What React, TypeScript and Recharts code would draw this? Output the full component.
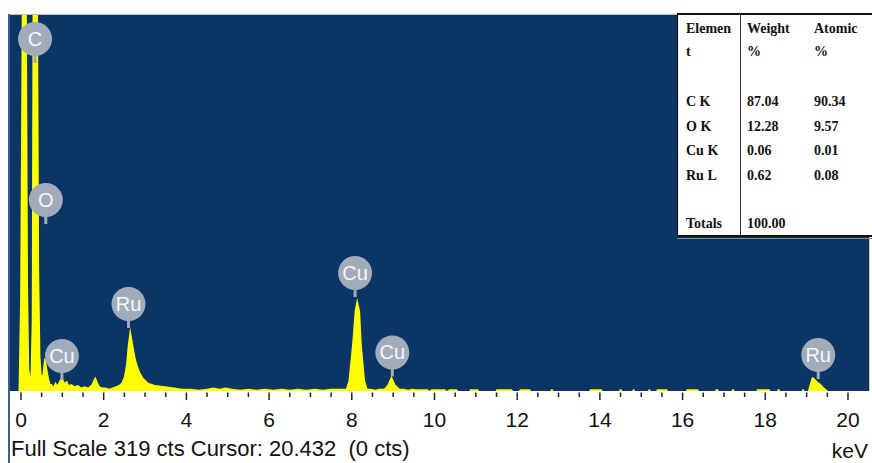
import {Area, CartesianGrid, ComposedChart, ReferenceDot, XAxis, YAxis} from "recharts";

// [keV, counts], region by region
const lightElementPeaks: [number, number][] = [
  [-0.314, 0], [-0.06, 0], [-0.02, 80], [0.02, 330], [0.06, 420], [0.10, 400], [0.14, 340],
  [0.17, 90], [0.20, 18], [0.23, 12], [0.26, 60], [0.28, 330], [0.33, 400], [0.38, 380],
  [0.41, 330], [0.44, 100], [0.47, 30], [0.50, 13], [0.52, 14], [0.56, 28], [0.60, 26],
  [0.64, 18], [0.68, 10], [0.72, 6],
];
const lowBackground: [number, number][] = [
  [0.74, 6], [0.79, 4], [0.83, 8], [0.88, 5], [0.93, 9], [0.98, 12], [1.02, 10], [1.06, 7],
  [1.11, 9], [1.16, 5], [1.22, 6], [1.30, 4], [1.38, 5], [1.46, 3], [1.54, 4], [1.62, 3],
  [1.70, 5], [1.76, 10], [1.80, 12], [1.85, 8], [1.90, 4], [1.97, 3], [2.05, 3], [2.13, 2],
  [2.21, 3], [2.30, 4], [2.37, 5],
];
const rutheniumL: [number, number][] = [
  [2.43, 7], [2.49, 12], [2.54, 22], [2.58, 38], [2.64, 54], [2.68, 46], [2.72, 38],
  [2.76, 30], [2.80, 24], [2.88, 16], [2.96, 11], [3.08, 7], [3.24, 5], [3.48, 4], [3.70, 3],
  [3.90, 2],
];
const midBackground: [number, number][] = [
  [4.10, 2], [4.30, 1], [4.50, 2], [4.65, 3], [4.80, 2], [4.95, 3], [5.10, 2], [5.30, 1],
  [5.50, 2], [5.70, 1], [5.90, 2], [6.10, 1], [6.30, 2], [6.50, 1], [6.70, 2], [6.90, 1],
  [7.10, 2], [7.30, 1], [7.50, 2], [7.70, 2], [7.80, 2],
];
const copperK: [number, number][] = [
  [7.86, 2], [7.92, 9], [8.01, 40], [8.07, 68], [8.13, 79], [8.20, 68], [8.24, 40], [8.32, 9],
  [8.38, 2], [8.46, 2], [8.56, 1], [8.66, 2], [8.78, 2], [8.86, 5], [8.96, 13], [9.06, 5],
  [9.16, 2], [9.26, 2], [9.36, 1], [9.46, 2],
];
const highTail: [number, number][] = [
  [9.55, 1.5], [9.84, 1.5], [9.88, 0], [9.92, 1.5], [10.25, 1.5], [10.30, 0], [10.36, 1.5],
  [10.54, 1.5], [10.58, 0], [10.84, 0], [10.86, 1.5], [11.05, 1.5], [11.08, 0], [11.48, 0],
  [11.50, 1.5], [11.87, 1.5], [11.90, 0], [12.04, 0], [12.07, 1.5], [12.31, 1.5], [12.34, 0],
  [12.80, 0], [12.82, 1.5], [12.86, 1.5], [12.88, 0], [13.74, 0], [13.76, 1.5], [14.04, 1.5],
  [14.07, 0], [14.46, 0], [14.48, 1.5], [14.52, 1.5], [14.54, 0], [14.78, 0], [14.80, 1.5],
  [14.83, 1.5], [14.85, 0], [15.16, 0], [15.18, 1.5], [15.21, 1.5], [15.23, 0], [15.36, 0],
  [15.38, 1.5], [15.62, 1.5], [15.65, 0], [16.08, 0], [16.10, 1.5], [16.37, 1.5], [16.40, 0],
  [16.78, 0], [16.80, 1.5], [16.86, 1.5], [16.88, 0], [17.18, 0], [17.20, 1.5], [17.24, 1.5],
  [17.26, 0], [17.78, 0], [17.80, 1.5], [18.10, 1.5], [18.13, 0], [18.28, 0], [18.30, 1.5],
  [18.34, 1.5], [18.36, 0], [18.88, 0], [18.90, 1.5], [18.93, 1.5], [18.95, 0],
];
const rutheniumK: [number, number][] = [
  [19.03, 0], [19.07, 5], [19.13, 12], [19.18, 11], [19.26, 8], [19.34, 6], [19.42, 3],
  [19.52, 0], [20.484, 0],
];

const peakLabels = [
  {name: "C", kev: 0.34, cts: 298.6},
  {name: "O", kev: 0.60, cts: 162},
  {name: "Cu", kev: 0.99, cts: 29.7},
  {name: "Ru", kev: 2.60, cts: 73.8},
  {name: "Cu", kev: 8.08, cts: 100.1},
  {name: "Cu", kev: 8.98, cts: 32.7},
  {name: "Ru", kev: 19.28, cts: 30.5},
];

const xTicks = [
  0, 0.5, 1, 1.5, 2, 2.5, 3, 3.5, 4, 4.5, 5, 5.5, 6, 6.5, 7, 7.5, 8, 8.5, 9, 9.5, 10,
  10.5, 11, 11.5, 12, 12.5, 13, 13.5, 14, 14.5, 15, 15.5, 16, 16.5, 17, 17.5, 18, 18.5,
  19, 19.5, 20,
];

const tableElements = ["C K", "O K", "Cu K", "Ru L"];
const weightPct = ["87.04", "12.28", "0.06", "0.62"];
const atomicPct = ["90.34", "9.57", "0.01", "0.08"];
const totalWeight = "100.00";

const fullScaleCts = 319;
const statusLine = "Full Scale 319 cts Cursor: 20.432  (0 cts)";

const spectrum = [
  ...lightElementPeaks, ...lowBackground, ...rutheniumL, ...midBackground,
  ...copperK, ...highTail, ...rutheniumK,
].map(([kev, cts]) => ({kev, cts}));

const PLOT_BG = "#0b3565";
const SANS = "'Liberation Sans', Arial, sans-serif";
const SERIF = "'Liberation Serif', 'Times New Roman', serif";

const KevTick = ({x, y, payload}: any) => {
  const v = payload.value;
  const major = v % 2 === 0;
  return <g>
    <line x1={x} x2={x} y1={y + 1.5} y2={y + (major ? 9 : 6)} stroke="#222" strokeWidth={1.5}/>
    {major && <text x={x} y={y + 36} textAnchor="middle" fontFamily={SANS} fontSize={21} fill="#111">{v}</text>}
  </g>
}

const Badge = ({cx, cy, name}: any) => {
  const tint = "#a2abba";
  return <g>
    <rect x={cx - 1.5} y={cy + 12} width={3} height={12} fill={tint}/>
    <circle cx={cx} cy={cy} r={17} fill={tint}/>
    <text x={cx} y={cy + 7} textAnchor="middle" fontFamily={SANS} fontSize={20} fill="#f4f6f9">{name}</text>
  </g>
}

const rowY = [106, 130.5, 155, 180];

export default function App() {
  return <div style={{position: "absolute", left: 0, top: 0, width: 872, height: 463, background: "#fff", overflow: "hidden"}}>
    <ComposedChart width={872} height={463} data={spectrum} margin={{top: 15, right: 4, bottom: 12, left: 8}}>
      <CartesianGrid horizontal={false} vertical={false} fill={PLOT_BG} fillOpacity={1}/>
      <XAxis
        dataKey="kev"
        type="number"
        domain={[-0.314, 20.484]}
        allowDataOverflow
        ticks={xTicks}
        interval={0}
        tickSize={0}
        tickMargin={0}
        axisLine={false}
        tickLine={false}
        height={60}
        tick={(p: any) => <KevTick {...p}/>}
      />
      <YAxis hide domain={[0, fullScaleCts]} allowDataOverflow/>
      <Area
        dataKey="cts"
        type="linear"
        fill="#ffff00"
        fillOpacity={1}
        stroke="none"
        isAnimationActive={false}
      />
      {peakLabels.map((m, i) =>
        <ReferenceDot
          key={i}
          x={m.kev}
          y={m.cts}
          r={17}
          ifOverflow="visible"
          shape={(p: any) => <Badge cx={p.cx} cy={p.cy} name={m.name}/>}
        />
      )}
    </ComposedChart>

    <svg width={872} height={463} style={{position: "absolute", left: 0, top: 0, pointerEvents: "none"}}>
      {/* frame bits around the plot */}
      <line x1={8} x2={868} y1={14.5} y2={14.5} stroke="#b9c0ca" strokeWidth={1}/>
      <line x1={9} x2={9} y1={14} y2={463} stroke="#3d5f8f" strokeWidth={2}/>
      <line x1={868.5} x2={868.5} y1={237} y2={391} stroke="#1c2a42" strokeWidth={1.5}/>

      {/* quant table */}
      <rect x={677} y={14} width={196} height={223} fill="#fff"/>
      <line x1={677} x2={872} y1={14} y2={14} stroke="#111" strokeWidth={2}/>
      <line x1={677.5} x2={677.5} y1={13} y2={237} stroke="#111" strokeWidth={1.2}/>
      <line x1={740.5} x2={740.5} y1={14} y2={236} stroke="#333" strokeWidth={1}/>
      <line x1={677} x2={872} y1={236} y2={236} stroke="#111" strokeWidth={2}/>
      <line x1={677} x2={872} y1={238.5} y2={238.5} stroke="#888" strokeWidth={1}/>
      <g fontFamily={SERIF} fontWeight="bold" fontSize={14} fill="#111">
        <text x={686} y={33}>Elemen</text>
        <text x={686} y={56}>t</text>
        <text x={747} y={33}>Weight</text>
        <text x={747} y={56}>%</text>
        <text x={814} y={33}>Atomic</text>
        <text x={814} y={56}>%</text>
        {tableElements.map((el, i) => <g key={el}>
          <text x={686} y={rowY[i]}>{el}</text>
          <text x={747} y={rowY[i]}>{weightPct[i]}</text>
          <text x={814} y={rowY[i]}>{atomicPct[i]}</text>
        </g>)}
        <text x={686} y={228}>Totals</text>
        <text x={747} y={228}>{totalWeight}</text>
      </g>

      <text x={11} y={456} fontFamily={SANS} fontSize={22} fill="#111" style={{whiteSpace: "pre"}}>{statusLine}</text>
      <text x={868} y={458} textAnchor="end" fontFamily={SANS} fontSize={21} fill="#111">keV</text>
    </svg>
  </div>
}
